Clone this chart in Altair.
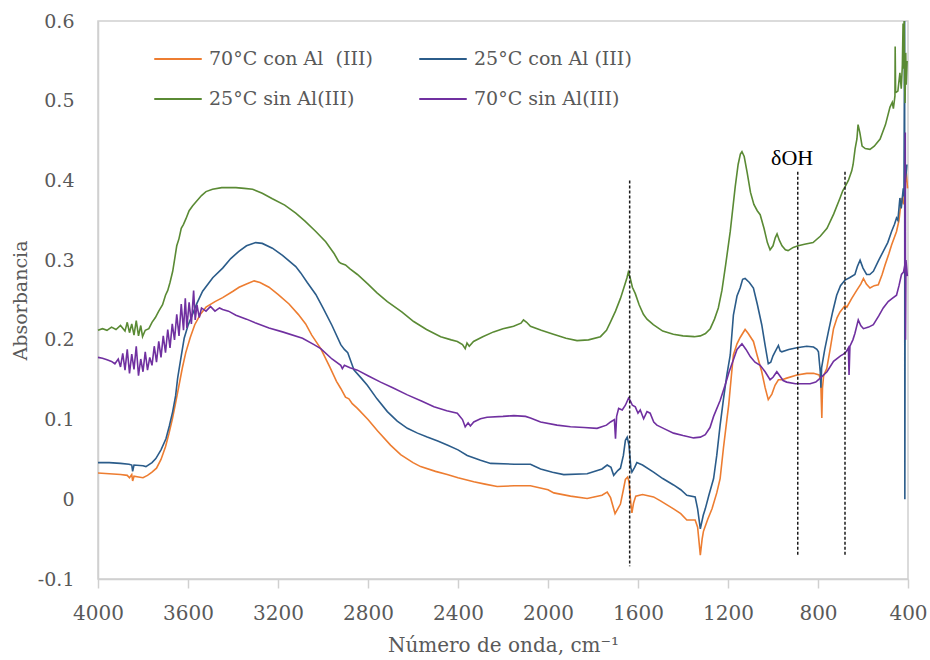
import altair as alt
import pandas as pd

# Series names (legend order) and their colours
SERIES = ["70°C con Al\u00a0 (III)", "25°C con Al (III)", "25°C sin Al(III)", "70°C sin Al(III)"]
COLORS = ["#ED7D31", "#2B5C8A", "#5A8A34", "#7030A0"]

# FTIR spectra: (wavenumber cm-1, absorbance)
ORANGE_70_CON = [
    (4000, 0.033), (3950, 0.032), (3900, 0.031), (3870, 0.030), (3860, 0.027), (3850, 0.031),
    (3846, 0.023), (3840, 0.029), (3820, 0.028), (3800, 0.027), (3780, 0.030), (3760, 0.034),
    (3740, 0.039), (3720, 0.050), (3700, 0.066), (3685, 0.082), (3670, 0.100), (3655, 0.121),
    (3640, 0.143), (3625, 0.165), (3610, 0.184), (3590, 0.203), (3570, 0.219), (3545, 0.232),
    (3520, 0.241), (3480, 0.248), (3446, 0.253), (3400, 0.261), (3373, 0.266), (3340, 0.270),
    (3306, 0.274), (3280, 0.272), (3240, 0.266), (3200, 0.257), (3151, 0.245), (3110, 0.232),
    (3077, 0.220), (3050, 0.206), (3010, 0.189), (2970, 0.166), (2940, 0.148), (2921, 0.139),
    (2900, 0.128), (2885, 0.126), (2870, 0.120), (2847, 0.114), (2800, 0.100), (2758, 0.086),
    (2700, 0.068), (2655, 0.056), (2600, 0.046), (2566, 0.041), (2500, 0.035), (2448, 0.031),
    (2400, 0.027), (2330, 0.022), (2280, 0.019), (2226, 0.016), (2150, 0.017), (2078, 0.017),
    (2000, 0.012), (1974, 0.008), (1900, 0.004), (1826, 0.001), (1760, 0.005), (1737, 0.009),
    (1722, 0.002), (1702, -0.018), (1690, -0.012), (1678, -0.006), (1665, 0.012), (1656, 0.025),
    (1646, 0.028), (1640, 0.022), (1632, -0.005), (1627, -0.017), (1620, -0.005), (1610, 0.004),
    (1580, 0.006), (1531, 0.003), (1500, -0.002), (1442, -0.012), (1410, -0.018), (1383, -0.026),
    (1346, -0.026), (1335, -0.035), (1323, -0.070), (1315, -0.050), (1309, -0.040), (1290, -0.025),
    (1271, -0.012), (1250, 0.008), (1235, 0.026), (1220, 0.065), (1205, 0.100), (1197, 0.118),
    (1185, 0.155), (1176, 0.181), (1160, 0.195), (1146, 0.203), (1124, 0.213), (1110, 0.208),
    (1087, 0.198), (1070, 0.180), (1050, 0.160), (1035, 0.140), (1021, 0.125), (1005, 0.132),
    (991, 0.143), (976, 0.150), (960, 0.150), (939, 0.152), (894, 0.156), (850, 0.158),
    (820, 0.158), (795, 0.156), (788, 0.150), (783, 0.102), (780, 0.140), (775, 0.155),
    (761, 0.164), (745, 0.190), (731, 0.214), (715, 0.228), (702, 0.235), (680, 0.243),
    (672, 0.241), (650, 0.252), (628, 0.262), (610, 0.270), (598, 0.277), (585, 0.270),
    (569, 0.265), (550, 0.268), (532, 0.269), (515, 0.282), (502, 0.294), (485, 0.308),
    (473, 0.319), (451, 0.336), (440, 0.350), (429, 0.378), (420, 0.370), (413, 0.395),
    (408, 0.410), (405, 0.400), (402, 0.390),
]

BLUE_25_CON = [
    (4000, 0.046), (3950, 0.046), (3900, 0.045), (3862, 0.044), (3850, 0.043), (3846, 0.035),
    (3840, 0.043), (3800, 0.042), (3787, 0.041), (3760, 0.046), (3743, 0.051), (3720, 0.062),
    (3698, 0.076), (3683, 0.092), (3668, 0.110), (3655, 0.130), (3646, 0.152), (3630, 0.180),
    (3617, 0.202), (3600, 0.218), (3580, 0.232), (3560, 0.246), (3535, 0.261), (3490, 0.278),
    (3446, 0.290), (3410, 0.302), (3374, 0.311), (3340, 0.318), (3299, 0.322), (3270, 0.321),
    (3225, 0.315), (3180, 0.306), (3121, 0.292), (3099, 0.284), (3070, 0.272), (3032, 0.257),
    (3000, 0.240), (2960, 0.218), (2921, 0.194), (2905, 0.188), (2890, 0.184), (2862, 0.162),
    (2830, 0.152), (2803, 0.143), (2760, 0.126), (2714, 0.110), (2670, 0.098), (2625, 0.089),
    (2580, 0.083), (2537, 0.078), (2490, 0.073), (2448, 0.068), (2400, 0.062), (2359, 0.055),
    (2300, 0.049), (2255, 0.045), (2150, 0.044), (2078, 0.044), (2033, 0.038), (1980, 0.034),
    (1930, 0.031), (1826, 0.032), (1760, 0.038), (1737, 0.043), (1720, 0.040), (1708, 0.030),
    (1690, 0.036), (1678, 0.039), (1665, 0.055), (1656, 0.074), (1648, 0.078), (1640, 0.068),
    (1632, 0.040), (1627, 0.034), (1615, 0.040), (1605, 0.046), (1580, 0.043), (1531, 0.034),
    (1490, 0.026), (1442, 0.018), (1410, 0.012), (1383, 0.005), (1346, 0.003), (1335, -0.012),
    (1323, -0.037), (1310, -0.020), (1301, -0.012), (1285, 0.005), (1264, 0.026), (1250, 0.055),
    (1235, 0.093), (1220, 0.126), (1205, 0.156), (1190, 0.181), (1176, 0.231), (1160, 0.255),
    (1146, 0.265), (1135, 0.276), (1124, 0.277), (1105, 0.272), (1087, 0.265), (1070, 0.245),
    (1050, 0.219), (1035, 0.193), (1021, 0.170), (1010, 0.172), (1000, 0.180), (991, 0.185),
    (976, 0.193), (968, 0.186), (961, 0.185), (930, 0.188), (894, 0.190), (850, 0.192),
    (820, 0.191), (805, 0.188), (798, 0.185), (790, 0.160), (787, 0.140), (784, 0.165),
    (770, 0.188), (754, 0.210), (735, 0.235), (717, 0.256), (700, 0.268), (680, 0.275),
    (660, 0.278), (636, 0.282), (625, 0.292), (613, 0.300), (600, 0.290), (584, 0.282),
    (570, 0.282), (554, 0.286), (530, 0.300), (510, 0.311), (490, 0.322), (473, 0.336),
    (460, 0.345), (451, 0.353), (445, 0.350), (436, 0.378), (430, 0.365), (421, 0.390),
    (418, 0.380), (415, 0.600), (414, 0.000), (412, 0.400), (408, 0.410), (405, 0.420),
]

GREEN_25_SIN = [
    (4000, 0.212), (3980, 0.214), (3960, 0.212), (3940, 0.216), (3920, 0.213), (3900, 0.218),
    (3880, 0.211), (3870, 0.222), (3860, 0.209), (3850, 0.220), (3840, 0.206), (3830, 0.224),
    (3820, 0.205), (3810, 0.218), (3802, 0.204), (3790, 0.212), (3774, 0.214), (3760, 0.222),
    (3745, 0.228), (3730, 0.236), (3713, 0.244), (3700, 0.256), (3690, 0.262), (3680, 0.272),
    (3668, 0.286), (3660, 0.300), (3650, 0.318), (3640, 0.327), (3630, 0.340), (3620, 0.345),
    (3609, 0.352), (3595, 0.362), (3580, 0.368), (3565, 0.373), (3540, 0.381), (3520, 0.386),
    (3491, 0.389), (3450, 0.391), (3387, 0.391), (3350, 0.390), (3313, 0.389), (3270, 0.384),
    (3225, 0.377), (3170, 0.369), (3121, 0.359), (3080, 0.349), (3032, 0.336), (2988, 0.323),
    (2950, 0.308), (2930, 0.298), (2921, 0.296), (2900, 0.294), (2880, 0.289), (2847, 0.282),
    (2800, 0.270), (2760, 0.259), (2714, 0.248), (2650, 0.235), (2597, 0.223), (2540, 0.213),
    (2477, 0.204), (2430, 0.200), (2403, 0.198), (2380, 0.194), (2368, 0.189), (2360, 0.196),
    (2350, 0.192), (2331, 0.198), (2290, 0.204), (2242, 0.210), (2200, 0.214), (2153, 0.217),
    (2120, 0.221), (2109, 0.225), (2095, 0.222), (2078, 0.217), (2030, 0.212), (1976, 0.207),
    (1920, 0.202), (1871, 0.199), (1820, 0.200), (1767, 0.204), (1740, 0.212), (1723, 0.222),
    (1700, 0.236), (1678, 0.252), (1660, 0.268), (1649, 0.278), (1643, 0.285), (1635, 0.278),
    (1625, 0.266), (1612, 0.258), (1595, 0.244), (1576, 0.232), (1560, 0.226), (1532, 0.219),
    (1490, 0.211), (1443, 0.207), (1400, 0.205), (1350, 0.204), (1323, 0.205), (1300, 0.208),
    (1279, 0.214), (1260, 0.226), (1243, 0.240), (1227, 0.262), (1210, 0.295), (1190, 0.336),
    (1168, 0.392), (1155, 0.420), (1145, 0.433), (1138, 0.436), (1128, 0.430), (1115, 0.410),
    (1100, 0.385), (1085, 0.370), (1070, 0.362), (1057, 0.357), (1040, 0.340), (1025, 0.322),
    (1013, 0.313), (1000, 0.318), (990, 0.328), (982, 0.333), (972, 0.325), (960, 0.318),
    (945, 0.313), (933, 0.312), (910, 0.316), (888, 0.318), (860, 0.320), (822, 0.322),
    (790, 0.330), (760, 0.340), (730, 0.358), (702, 0.378), (690, 0.387), (680, 0.392),
    (665, 0.400), (650, 0.412), (644, 0.420), (635, 0.440), (627, 0.452), (622, 0.470),
    (614, 0.460), (604, 0.443), (590, 0.440), (569, 0.439), (550, 0.443), (524, 0.452),
    (500, 0.470), (480, 0.492), (470, 0.498), (465, 0.490), (458, 0.506), (457, 0.568),
    (455, 0.510), (445, 0.512), (436, 0.535), (430, 0.515), (425, 0.545), (422, 0.597),
    (420, 0.540), (417, 0.600), (415, 0.520), (413, 0.497), (410, 0.560), (408, 0.520),
    (404, 0.550),
]

PURPLE_70_SIN = [
    (4000, 0.178), (3980, 0.177), (3960, 0.175), (3940, 0.173), (3925, 0.170), (3910, 0.176),
    (3900, 0.166), (3890, 0.183), (3880, 0.162), (3870, 0.188), (3860, 0.158), (3850, 0.182),
    (3840, 0.163), (3830, 0.192), (3820, 0.155), (3810, 0.176), (3800, 0.160), (3790, 0.185),
    (3780, 0.162), (3770, 0.178), (3760, 0.168), (3750, 0.192), (3740, 0.172), (3730, 0.198),
    (3720, 0.178), (3710, 0.205), (3700, 0.184), (3690, 0.213), (3680, 0.190), (3670, 0.220),
    (3660, 0.200), (3650, 0.232), (3640, 0.205), (3630, 0.245), (3620, 0.212), (3612, 0.252),
    (3605, 0.215), (3595, 0.247), (3585, 0.220), (3575, 0.262), (3568, 0.225), (3560, 0.244),
    (3550, 0.228), (3540, 0.240), (3520, 0.236), (3500, 0.242), (3480, 0.236), (3460, 0.240),
    (3446, 0.238), (3420, 0.236), (3387, 0.231), (3340, 0.226), (3299, 0.221), (3240, 0.215),
    (3180, 0.210), (3091, 0.202), (3040, 0.194), (3010, 0.189), (2960, 0.176), (2921, 0.168),
    (2914, 0.164), (2905, 0.168), (2880, 0.165), (2847, 0.162), (2800, 0.155), (2744, 0.147),
    (2690, 0.140), (2625, 0.131), (2560, 0.123), (2507, 0.116), (2450, 0.111), (2403, 0.108),
    (2380, 0.100), (2368, 0.091), (2355, 0.096), (2345, 0.092), (2330, 0.097), (2300, 0.101),
    (2271, 0.103), (2200, 0.104), (2152, 0.105), (2100, 0.104), (2078, 0.102), (2033, 0.097),
    (1960, 0.093), (1900, 0.091), (1840, 0.090), (1782, 0.089), (1740, 0.093), (1722, 0.097),
    (1705, 0.100), (1700, 0.076), (1695, 0.104), (1686, 0.114), (1670, 0.112), (1656, 0.118),
    (1642, 0.127), (1635, 0.124), (1625, 0.118), (1612, 0.116), (1600, 0.108), (1590, 0.112),
    (1575, 0.101), (1560, 0.110), (1546, 0.108), (1530, 0.097), (1516, 0.093), (1480, 0.088),
    (1442, 0.083), (1400, 0.080), (1353, 0.077), (1323, 0.078), (1301, 0.081), (1280, 0.090),
    (1264, 0.104), (1235, 0.124), (1213, 0.143), (1195, 0.160), (1176, 0.175), (1160, 0.188),
    (1138, 0.195), (1120, 0.188), (1101, 0.179), (1080, 0.172), (1057, 0.168), (1035, 0.160),
    (1013, 0.150), (1000, 0.153), (983, 0.160), (970, 0.155), (955, 0.149), (939, 0.147),
    (900, 0.145), (835, 0.145), (810, 0.147), (790, 0.152), (760, 0.160), (731, 0.173),
    (700, 0.180), (687, 0.182), (675, 0.185), (665, 0.190), (662, 0.156), (658, 0.192),
    (645, 0.200), (636, 0.208), (621, 0.225), (610, 0.218), (598, 0.214), (575, 0.216),
    (554, 0.219), (530, 0.230), (510, 0.240), (488, 0.248), (470, 0.252), (451, 0.256),
    (440, 0.268), (429, 0.282), (420, 0.285), (414, 0.294), (412, 0.460), (411, 0.200),
    (409, 0.300), (406, 0.290), (403, 0.280),
]

# Reference band positions (dashed guides): wavenumber, top and bottom absorbance
GUIDE_WN = [1637, 890, 680]
GUIDE_TOP = [0.400, 0.411, 0.411]
GUIDE_BOTTOM = [-0.084, -0.071, -0.071]

LABEL_TEXT = ["δOH"]
LABEL_WN = [915]
LABEL_ABS = [0.428]

X_TICKS = [4000, 3600, 3200, 2800, 2400, 2000, 1600, 1200, 800, 400]
Y_TICKS = [-0.1, 0.0, 0.1, 0.2, 0.3, 0.4, 0.5, 0.6]

frames = []
for name, pts in zip(SERIES, [ORANGE_70_CON, BLUE_25_CON, GREEN_25_SIN, PURPLE_70_SIN]):
    frames.append(pd.DataFrame({
        "wn": [p[0] for p in pts],
        "abs": [p[1] for p in pts],
        "serie": name,
        "i": list(range(len(pts))),
    }))
spectra = pd.concat(frames, ignore_index=True)

guides = pd.DataFrame({"wn": GUIDE_WN, "top": GUIDE_TOP, "bottom": GUIDE_BOTTOM})
labels = pd.DataFrame({"txt": LABEL_TEXT, "wn": LABEL_WN, "abs": LABEL_ABS})

SERIF = "DejaVu Serif"
GREY = "#595959"
LINE_GREY = "#d0d0d0"

x_scale = alt.Scale(domain=[4000, 400], nice=False, zero=False)
y_scale = alt.Scale(domain=[-0.1, 0.6], nice=False, zero=False)

x_axis = alt.Axis(
    values=X_TICKS, format="d", grid=False,
    title="Número de onda, cm⁻¹", titleFont=SERIF, titleFontSize=20,
    titleFontWeight="normal", titleColor=GREY, titleY=66, titleBaseline="middle",
    labelFont=SERIF, labelFontSize=20, labelColor=GREY, labelBaseline="middle",
    labelPadding=25, tickSize=9, tickColor=LINE_GREY, tickWidth=1.5,
    domainColor=LINE_GREY, domainWidth=1.5, labelFlush=False, labelOverlap=False,
)
y_axis = alt.Axis(
    values=Y_TICKS, grid=False, ticks=False, tickSize=0,
    labelExpr="datum.value == 0 ? '0' : (datum.value < 0 ? '-' + format(-datum.value, '.1f') : format(datum.value, '.1f'))",
    title="Absorbancia", titleFont=SERIF, titleFontSize=19, titleFontWeight="normal",
    titleColor=GREY, titleX=-78, titleY=279, titleAngle=270, titleBaseline="middle",
    titleAlign="center",
    labelFont=SERIF, labelFontSize=19, labelColor=GREY, labelPadding=24,
    domainColor=LINE_GREY, domainWidth=1.5, labelFlush=False, labelOverlap=False,
)

lines = alt.Chart(spectra).mark_line(strokeWidth=1.6).encode(
    x=alt.X("wn:Q", scale=x_scale, axis=x_axis),
    y=alt.Y("abs:Q", scale=y_scale, axis=y_axis),
    color=alt.Color(
        "serie:N",
        scale=alt.Scale(domain=SERIES, range=COLORS),
        sort=SERIES,
        legend=alt.Legend(
            title=None, orient="none", legendX=60, legendY=18, columns=2,
            direction="horizontal",
            symbolType="M-1.25,0H1.25", symbolSize=1444, symbolStrokeWidth=2,
            labelFont=SERIF, labelFontSize=19, labelColor=GREY, labelLimit=400,
            labelOffset=11, columnPadding=42, rowPadding=10, padding=0,
        ),
    ),
    order=alt.Order("i:Q"),
)

rules = alt.Chart(guides).mark_rule(
    strokeDash=[3, 2], color="#1a1a1a", strokeWidth=1.5
).encode(
    x=alt.X("wn:Q", scale=x_scale),
    y=alt.Y("top:Q", scale=y_scale),
    y2="bottom:Q",
)

text = alt.Chart(labels).mark_text(
    font="Liberation Serif", fontSize=22, color="black", align="center", baseline="middle"
).encode(
    x=alt.X("wn:Q", scale=x_scale),
    y=alt.Y("abs:Q", scale=y_scale),
    text="txt:N",
)

chart = alt.layer(lines, rules, text).properties(
    width=810, height=558,
    padding={"left": 98, "top": 21, "right": 22, "bottom": 81},
    autosize=alt.AutoSizeParams(type="none"),
    background="white",
).configure_view(stroke=LINE_GREY, strokeWidth=1.5)

chart.save("out.html", embed_options={"renderer": "svg", "actions": False})
